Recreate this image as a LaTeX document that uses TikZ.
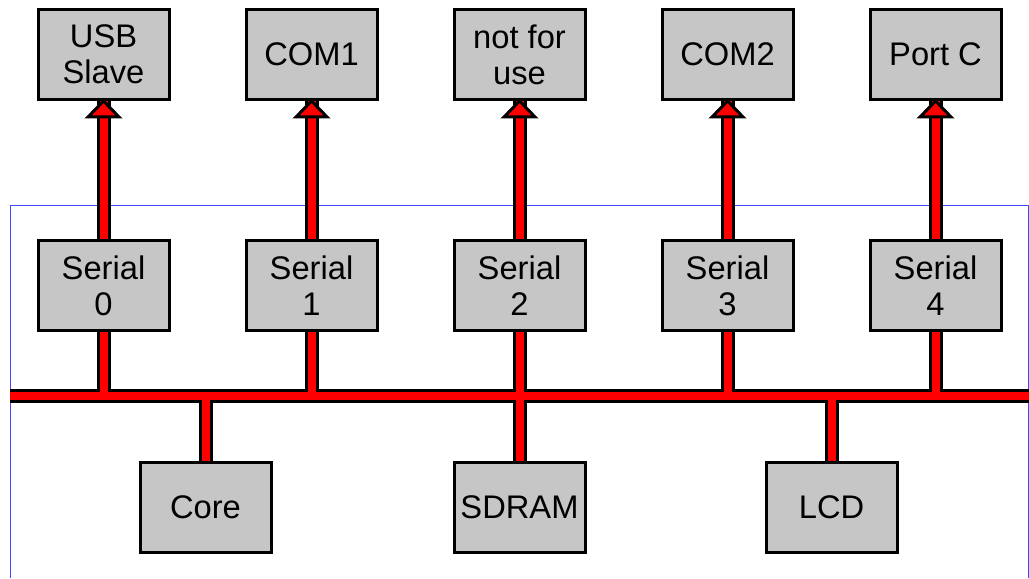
\documentclass[tikz,border=0pt]{standalone}
\usepackage{fontspec}
\setmainfont{Liberation Sans}
\usetikzlibrary{positioning,calc}
\definecolor{gris}{RGB}{198,198,198}
\definecolor{rojo}{RGB}{255,0,0}
\definecolor{azul}{RGB}{70,70,255}

\begin{document}
\begin{tikzpicture}[
    caja/.style={draw, line width=0.03cm, fill=gris, align=center,
                 minimum width=1.31cm, minimum height=0.90cm, inner sep=1pt,
                 font=\fontsize{9.3}{10.3}\selectfont},
    funda/.style={line width=0.14cm, draw=black},
    cable/.style={line width=0.08cm, draw=rojo},
    punta/.style={fill=rojo, draw=black, line width=0.03cm}]
  \useasboundingbox (0,0) rectangle (10.29,5.78);
  \draw[azul, line width=0.01cm] (0.10,0) -- (0.10,3.72) -- (10.285,3.72) -- (10.285,0);
  \node[caja] (s0) at (1.035,2.925) {Serial\\0};
  \node[caja, right=0.74cm of s0] (s1) {Serial\\1};
  \node[caja, right=0.74cm of s1] (s2) {Serial\\2};
  \node[caja, right=0.74cm of s2] (s3) {Serial\\3};
  \node[caja, right=0.74cm of s3] (s4) {Serial\\4};
  \node[caja, above=1.38cm of s0] (u0) {USB\\Slave};
  \node[caja, above=1.38cm of s1] (u1) {COM1};
  \node[caja, above=1.38cm of s2] (u2) {not for\\use};
  \node[caja, above=1.38cm of s3] (u3) {COM2};
  \node[caja, above=1.38cm of s4] (u4) {Port C};
  \node[caja] (core) at (2.055,0.705) {Core};
  \node[caja] (sdram) at (5.195,0.705) {SDRAM};
  \node[caja] (lcd) at (8.315,0.705) {LCD};
  \coordinate (bi) at (0.10,1.82);
  \coordinate (bd) at (10.29,1.82);
  \draw[funda] (bi) -- (bd)
    (s0.south) -- (s0.south |- bi) (s1.south) -- (s1.south |- bi)
    (s2.south) -- (s2.south |- bi) (s3.south) -- (s3.south |- bi)
    (s4.south) -- (s4.south |- bi)
    (core.north) -- (core.north |- bi) (sdram.north) -- (sdram.north |- bi)
    (lcd.north) -- (lcd.north |- bi)
    (s0.north) -- (u0.south) (s1.north) -- (u1.south) (s2.north) -- (u2.south)
    (s3.north) -- (u3.south) (s4.north) -- (u4.south);
  \draw[cable] (bi) -- (bd)
    (s0.south) -- (s0.south |- bi) (s1.south) -- (s1.south |- bi)
    (s2.south) -- (s2.south |- bi) (s3.south) -- (s3.south |- bi)
    (s4.south) -- (s4.south |- bi)
    (core.north) -- (core.north |- bi) (sdram.north) -- (sdram.north |- bi)
    (lcd.north) -- (lcd.north |- bi)
    (s0.north) -- (u0.south) (s1.north) -- (u1.south) (s2.north) -- (u2.south)
    (s3.north) -- (u3.south) (s4.north) -- (u4.south);
  \filldraw[punta] (u0.south) -- ++(0.155,-0.16) -- ++(-0.31,0) -- cycle;
  \filldraw[punta] (u1.south) -- ++(0.155,-0.16) -- ++(-0.31,0) -- cycle;
  \filldraw[punta] (u2.south) -- ++(0.155,-0.16) -- ++(-0.31,0) -- cycle;
  \filldraw[punta] (u3.south) -- ++(0.155,-0.16) -- ++(-0.31,0) -- cycle;
  \filldraw[punta] (u4.south) -- ++(0.155,-0.16) -- ++(-0.31,0) -- cycle;
\end{tikzpicture}
\end{document}
